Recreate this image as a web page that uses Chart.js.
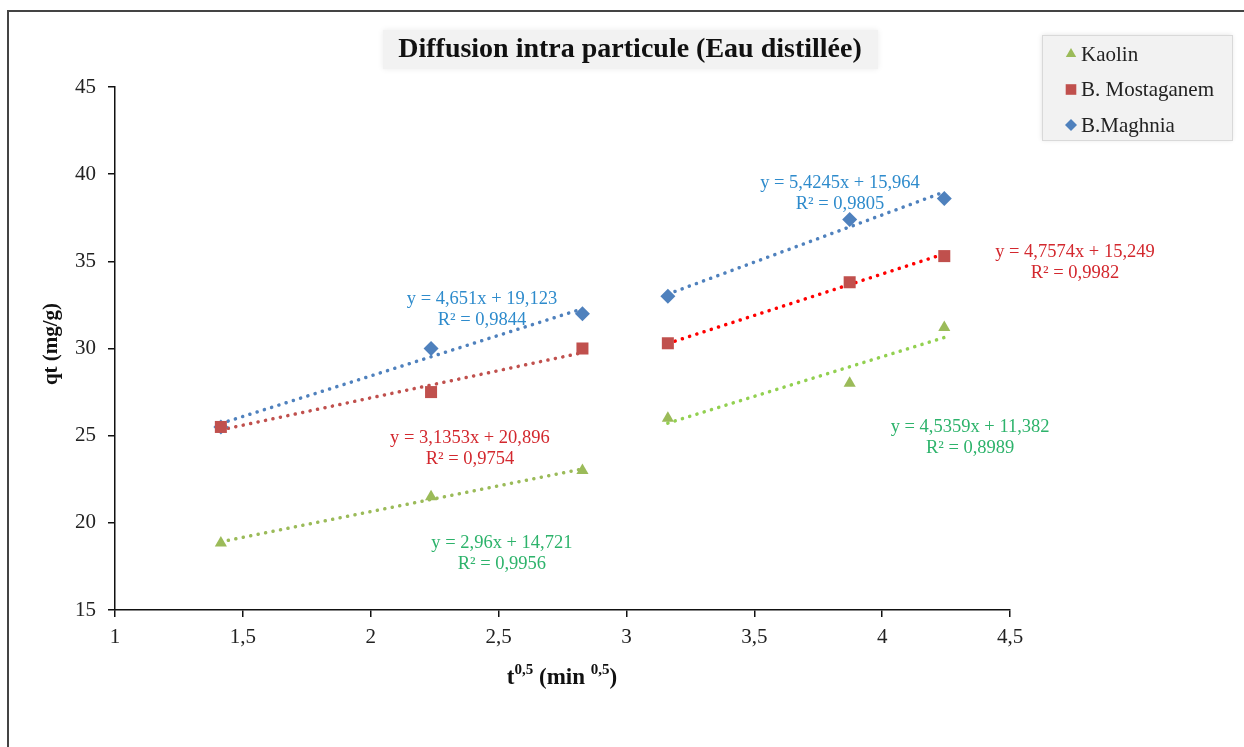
<!DOCTYPE html>
<html>
<head>
<meta charset="utf-8">
<script src="https://cdn.jsdelivr.net/npm/chart.js@4"></script>
<style>
  body { margin: 0; background: #fff; }
</style>
</head>
<body>
<canvas id="myChart" width="1244" height="747"></canvas>
<script>
// t^0.5 values (sqrt of minutes)
var tSqrt = [1.414, 2.236, 2.828, 3.162, 3.873, 4.243];
var kaolin = [18.85, 21.5, 23.0, 26.0, 28.0, 31.2];
var mostaganem = [25.5, 27.5, 30.0, 30.3, 33.8, 35.3];
var maghnia = [25.5, 30.0, 32.0, 33.0, 37.4, 38.6];

// trend line ends, first group / second group
var trendX = [[1.414, 2.828], [3.162, 4.243]];
var trendKaolin = [[18.91, 23.09], [25.72, 30.63]];
var trendMostaganem = [[25.33, 29.76], [30.29, 35.43]];
var trendMaghnia = [[25.70, 32.28], [33.12, 38.98]];

var yTicks = [15, 20, 25, 30, 35, 40, 45];
var xTicks = [1, 1.5, 2, 2.5, 3, 3.5, 4, 4.5];

var serif = "'Liberation Serif', 'Times New Roman', serif";

function pts(xs, ys) {
    var out = [];
    for (var i = 0; i < xs.length; i++) out.push({x: xs[i], y: ys[i]});
    return out;
}

function trend(i, ys, color) {
    return {
        type: 'line',
        data: pts(trendX[i], ys[i]),
        borderColor: color,
        borderWidth: 3.5,
        borderDash: [0.1, 7.5],
        borderCapStyle: 'round',
        pointRadius: 0,
        fill: false,
        showLine: true
    };
}

// equation labels: anchor in data units, then lines
var equations = [
    {x: 2.435, y: 32.84, color: '#2E8BCC', lines: ['y = 4,651x + 19,123', 'R² = 0,9844']},
    {x: 2.388, y: 24.87, color: '#D3282E', lines: ['y = 3,1353x + 20,896', 'R² = 0,9754']},
    {x: 2.513, y: 18.84, color: '#2DB36B', lines: ['y = 2,96x + 14,721', 'R² = 0,9956']},
    {x: 3.835, y: 39.49, color: '#2E8BCC', lines: ['y = 5,4245x + 15,964', 'R² = 0,9805']},
    {x: 4.754, y: 35.54, color: '#D3282E', lines: ['y = 4,7574x + 15,249', 'R² = 0,9982']},
    {x: 4.344, y: 25.50, color: '#2DB36B', lines: ['y = 4,5359x + 11,382', 'R² = 0,8989']}
];

var legendItems = [
    {label: 'Kaolin', style: 'triangle', color: '#9BBB59'},
    {label: 'B. Mostaganem', style: 'rect', color: '#C0504D'},
    {label: 'B.Maghnia', style: 'rectRot', color: '#4F81BD'}
];

var decorations = {
    id: 'decorations',
    beforeDraw: function(chart) {
        var ctx = chart.ctx;
        ctx.save();
        ctx.fillStyle = '#fff';
        ctx.fillRect(0, 0, chart.width, chart.height);
        // frame
        ctx.strokeStyle = '#444';
        ctx.lineWidth = 2;
        ctx.beginPath();
        ctx.moveTo(8, chart.height);
        ctx.lineTo(8, 11);
        ctx.lineTo(chart.width, 11);
        ctx.stroke();

        // title box
        ctx.shadowColor = 'rgba(0,0,0,0.08)';
        ctx.shadowBlur = 6;
        ctx.fillStyle = '#F2F2F2';
        ctx.fillRect(383, 30, 495, 39);
        ctx.shadowBlur = 0;
        ctx.fillStyle = '#111';
        ctx.font = 'bold 28px ' + serif;
        ctx.textAlign = 'center';
        ctx.textBaseline = 'middle';
        ctx.fillText('Diffusion intra particule (Eau distillée)', 630, 50);

        // legend box
        ctx.shadowColor = 'rgba(0,0,0,0.12)';
        ctx.shadowBlur = 5;
        ctx.fillStyle = '#F2F2F2';
        ctx.fillRect(1042, 35, 190, 105);
        ctx.shadowBlur = 0;
        ctx.strokeStyle = '#D9D9D9';
        ctx.lineWidth = 1;
        ctx.strokeRect(1042.5, 35.5, 190, 105);
        ctx.font = '21px ' + serif;
        ctx.textAlign = 'left';
        for (var i = 0; i < legendItems.length; i++) {
            var it = legendItems[i];
            var ly = 54 + i * 35.5;
            ctx.fillStyle = it.color;
            ctx.strokeStyle = it.color;
            Chart.helpers.drawPoint(ctx, {pointStyle: it.style, radius: it.style === 'rect' ? 7.5 : 6, rotation: 0, borderWidth: 0}, 1071, ly);
            ctx.fillStyle = '#222';
            ctx.fillText(it.label, 1081, ly + 1);
        }
        ctx.restore();
    },
    afterDraw: function(chart) {
        var ctx = chart.ctx;
        var xs = chart.scales.x, ys = chart.scales.y;
        ctx.save();
        // equations
        ctx.font = '18.5px ' + serif;
        ctx.textAlign = 'center';
        ctx.textBaseline = 'middle';
        equations.forEach(function(e) {
            var px = xs.getPixelForValue(e.x), py = ys.getPixelForValue(e.y);
            ctx.fillStyle = e.color;
            e.lines.forEach(function(t, k) { ctx.fillText(t, px, py + k * 21.5); });
        });

        // y axis title
        ctx.fillStyle = '#111';
        ctx.font = 'bold 21px ' + serif;
        ctx.translate(52, 344);
        ctx.rotate(-Math.PI / 2);
        ctx.fillText('qt (mg/g)', 0, 0);
        ctx.setTransform(1, 0, 0, 1, 0, 0);

        // x axis title with superscripts
        var parts = [
            {t: 't', sup: false}, {t: '0,5', sup: true},
            {t: ' (min ', sup: false}, {t: '0,5', sup: true}, {t: ')', sup: false}
        ];
        var big = 'bold 23px ' + serif, small = 'bold 15px ' + serif;
        var w = 0;
        parts.forEach(function(p) { ctx.font = p.sup ? small : big; w += ctx.measureText(p.t).width; });
        var cx = 562;
        var x0 = cx - w / 2, base = 684;
        ctx.textAlign = 'left';
        ctx.textBaseline = 'alphabetic';
        parts.forEach(function(p) {
            ctx.font = p.sup ? small : big;
            ctx.fillText(p.t, x0, p.sup ? base - 10 : base);
            x0 += ctx.measureText(p.t).width;
        });
        ctx.restore();
    }
};

var ctx = document.getElementById('myChart').getContext('2d');
var chart = new Chart(ctx, {
    type: 'scatter',
    data: {
        datasets: [
            {label: 'Kaolin', data: pts(tSqrt, kaolin), pointStyle: 'triangle', pointRadius: 7,
             backgroundColor: '#9BBB59', borderColor: '#9BBB59', borderWidth: 0},
            {label: 'B. Mostaganem', data: pts(tSqrt, mostaganem), pointStyle: 'rect', pointRadius: 8.5,
             backgroundColor: '#C0504D', borderColor: '#C0504D', borderWidth: 0},
            {label: 'B.Maghnia', data: pts(tSqrt, maghnia), pointStyle: 'rectRot', pointRadius: 7.5,
             backgroundColor: '#4F81BD', borderColor: '#4F81BD', borderWidth: 0},
            trend(0, trendKaolin, '#9BBB59'),
            trend(1, trendKaolin, '#92D050'),
            trend(0, trendMostaganem, '#C0504D'),
            trend(1, trendMostaganem, '#FF0000'),
            trend(0, trendMaghnia, '#4F81BD'),
            trend(1, trendMaghnia, '#4F81BD')
        ]
    },
    options: {
        responsive: false,
        animation: false,
        layout: {padding: {left: 10, top: 87, right: 234, bottom: 0}},
        plugins: {legend: {display: false}, title: {display: false}, tooltip: {enabled: false}},
        scales: {
            x: {
                type: 'linear', min: 1, max: 4.5,
                afterBuildTicks: function(s) { s.ticks = xTicks.map(function(v) { return {value: v}; }); },
                afterFit: function(s) { s.height = 137; },
                grid: {drawOnChartArea: false, drawTicks: true, tickLength: 7, color: '#111', lineWidth: 1.5},
                border: {color: '#111', width: 1.5},
                ticks: {
                    padding: 8, color: '#222', font: {family: serif, size: 21},
                    maxRotation: 0,
                    callback: function(v) { return String(v).replace('.', ','); }
                }
            },
            y: {
                type: 'linear', min: 15, max: 45,
                afterBuildTicks: function(s) { s.ticks = yTicks.map(function(v) { return {value: v}; }); },
                afterFit: function(s) { s.width = 105; },
                grid: {drawOnChartArea: false, drawTicks: true, tickLength: 7, color: '#111', lineWidth: 1.5},
                border: {color: '#111', width: 1.5},
                ticks: {padding: 12, color: '#222', font: {family: serif, size: 21}}
            }
        }
    },
    plugins: [decorations]
});
</script>
</body>
</html>
